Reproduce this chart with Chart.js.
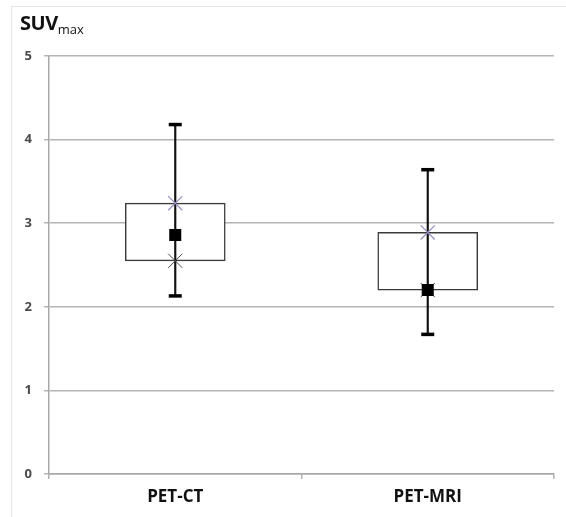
<!DOCTYPE html>
<html>
<head>
<meta charset="utf-8">
<script src="https://cdn.jsdelivr.net/npm/chart.js@4"></script>
<style>
  html, body { margin: 0; padding: 0; background: #fff; }
  #wrap { position: relative; width: 566px; height: 517px; }
  #frame { position: absolute; left: 11px; top: 6px; right: 0; bottom: 0;
           border-left: 1.5px solid #e6e6e6; border-top: 1.5px solid #e6e6e6; }
  #title { position: absolute; left: 20px; top: 9px; font-family: "Open Sans", sans-serif;
           font-weight: bold; font-size: 20px; color: #111; letter-spacing: -0.5px; }
  #title sub { font-size: 13px; font-weight: normal; vertical-align: -4px; letter-spacing: 0; }
  canvas { position: absolute; left: 0; top: 0; }
</style>
</head>
<body>
<div id="wrap">
  <div id="frame"></div>
  <canvas id="myChart" width="566" height="517"></canvas>
  <div id="title">SUV<sub>max</sub></div>
</div>
<script>
// Dados
const categories = ['PET-CT', 'PET-MRI'];
const whiskerMin = [2.13, 1.67];
const whiskerMax = [4.18, 3.64];
const boxLow = [2.55, 2.20];
const boxHigh = [3.24, 2.89];
const squareVals = [2.86, 2.20];
const upperCross = [3.24, 2.89];
const lowerCross = [2.55, 2.20];
const yTicks = [0, 1, 2, 3, 4, 5];

window.onload = function() {
    const ctx = document.getElementById('myChart').getContext('2d');
    const chart = new Chart(ctx, {
        type: 'bar',
        data: {
            labels: categories,
            datasets: [
                {
                    // caixa
                    type: 'bar',
                    data: boxLow.map((v, i) => [v, boxHigh[i]]),
                    backgroundColor: '#ffffff',
                    borderColor: '#3a3a3a',
                    borderWidth: 1.5,
                    borderSkipped: false,
                    barThickness: 100,
                    grouped: false,
                    order: 6
                },
                {
                    // linha do bigode
                    type: 'bar',
                    data: whiskerMin.map((v, i) => [v, whiskerMax[i]]),
                    backgroundColor: '#111111',
                    borderWidth: 0,
                    barThickness: 1.5,
                    grouped: false,
                    order: 5
                },
                {
                    type: 'line',
                    data: whiskerMax,
                    showLine: false,
                    pointStyle: 'line',
                    pointRadius: 6.5,
                    borderColor: '#000000',
                    borderWidth: 3.5,
                    order: 4
                },
                {
                    type: 'line',
                    data: whiskerMin,
                    showLine: false,
                    pointStyle: 'line',
                    pointRadius: 6.5,
                    borderColor: '#000000',
                    borderWidth: 3.5,
                    order: 4
                },
                {
                    type: 'line',
                    data: lowerCross,
                    showLine: false,
                    pointStyle: 'crossRot',
                    pointRadius: 10,
                    borderColor: '#4a4a4a',
                    borderWidth: 1,
                    order: 3
                },
                {
                    type: 'line',
                    data: squareVals,
                    showLine: false,
                    pointStyle: 'rect',
                    pointRadius: 8.5,
                    backgroundColor: '#000000',
                    borderColor: '#000000',
                    borderWidth: 0,
                    order: 2
                },
                {
                    type: 'line',
                    data: upperCross,
                    showLine: false,
                    pointStyle: 'crossRot',
                    pointRadius: 10,
                    borderColor: '#9a8cc4',
                    borderWidth: 1.2,
                    order: 1
                }
            ]
        },
        options: {
            responsive: false,
            animation: false,
            events: [],
            plugins: {
                legend: { display: false },
                tooltip: { enabled: false }
            },
            layout: {
                padding: { left: 0, right: 12, top: 56, bottom: 0 }
            },
            scales: {
                x: {
                    offset: true,
                    grid: {
                        offset: true,
                        drawOnChartArea: false,
                        tickLength: 5,
                        color: '#b0b0b0',
                        lineWidth: 1.5
                    },
                    border: { color: '#a8a8a8', width: 1.5 },
                    ticks: {
                        padding: 8,
                        color: '#111111',
                        font: { family: 'Open Sans', size: 17, weight: 'bold' }
                    },
                    afterFit: function(scale) { scale.height = 43; }
                },
                y: {
                    min: 0,
                    max: 5,
                    afterBuildTicks: function(scale) {
                        scale.ticks = yTicks.map(v => ({ value: v }));
                    },
                    grid: {
                        color: '#b4b4b4',
                        lineWidth: 1.5,
                        tickLength: 5
                    },
                    border: { color: '#a8a8a8', width: 1.5 },
                    ticks: {
                        padding: 12,
                        color: '#4a4a4a',
                        font: { family: 'Open Sans', size: 13, weight: 'bold' }
                    },
                    afterFit: function(scale) { scale.width = 49; }
                }
            }
        }
    });
};
</script>
</body>
</html>
